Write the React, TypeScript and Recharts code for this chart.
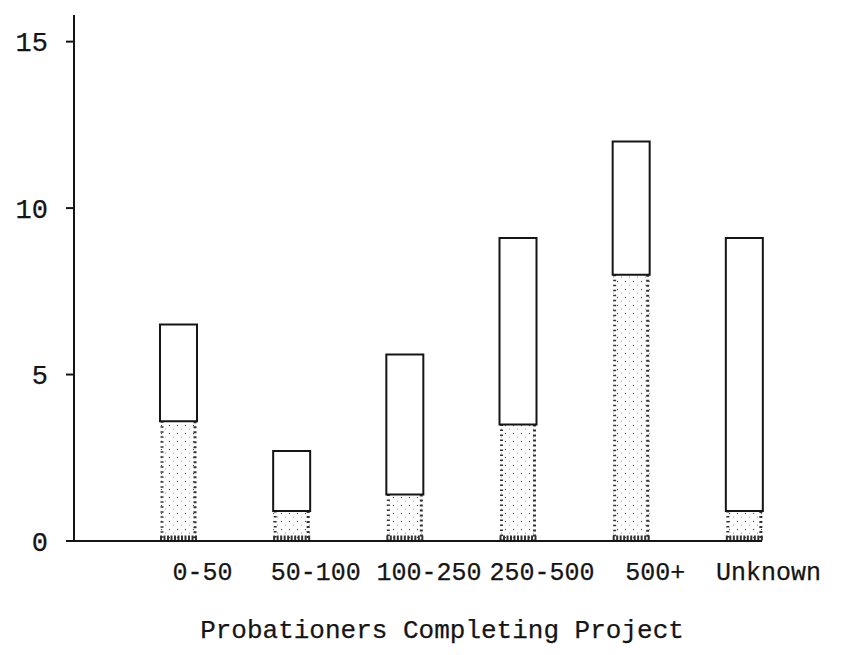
import { BarChart, Bar, XAxis, YAxis } from 'recharts';

const CATEGORIES = ['0-50', '50-100', '100-250', '250-500', '500+', 'Unknown'];
const TOTALS = [6.5, 2.7, 5.6, 9.1, 12, 9.1];
const LOWER = [3.6, 0.9, 1.4, 3.5, 8, 0.9];
const Y_TICKS = [0, 5, 10, 15];
const X_TITLE = 'Probationers Completing Project';

const data = CATEGORIES.map((name, i) => ({
  name,
  lower: LOWER[i],
  upper: +(TOTALS[i] - LOWER[i]).toFixed(2),
}));

const FONT = '"Liberation Mono", "Courier New", monospace';
const INK = '#151515';

// speckled lower part of each bar: sparse fill, denser edges
function StippleBar(props: any) {
  const { x, y, width, height } = props;
  if (!height || height <= 0) return null;
  return (
    <g>
      <rect x={x} y={y} width={width} height={height} fill="url(#stipple)" />
      <line x1={x + 2} x2={x + 2} y1={y} y2={y + height} stroke="#333" strokeWidth={3} strokeDasharray="1.5 3.5" />
      <line x1={x + width - 2} x2={x + width - 2} y1={y} y2={y + height} stroke="#333" strokeWidth={3} strokeDasharray="2 3" />
      <line x1={x} x2={x + width} y1={y + height - 3} y2={y + height - 3} stroke="#333" strokeWidth={5} strokeDasharray="2 1.5" />
    </g>
  );
}

export default function App() {
  return (
    <div style={{ width: 846, height: 647, background: '#fff' }}>
      <BarChart
        width={846}
        height={647}
        data={data}
        margin={{ top: 7, right: 92, bottom: 0, left: 0 }}
        barSize={37}
      >
        <defs>
          <pattern id="stipple" width="8" height="8" patternUnits="userSpaceOnUse">
            <rect width="8" height="8" fill="#fff" />
            <circle cx="1.5" cy="1.5" r="0.7" fill="#555" />
            <circle cx="5.5" cy="5" r="0.5" fill="#777" />
          </pattern>
        </defs>
        <XAxis
          dataKey="name"
          height={114}
          padding={{ left: 48, right: -39 }}
          axisLine={{ stroke: INK, strokeWidth: 2 }}
          tickLine={false}
          tickMargin={15}
          tick={{ fill: INK, stroke: INK, strokeWidth: 0.25, fontSize: 25, fontFamily: FONT, dx: 24 }}
          interval={0}
          label={{
            value: X_TITLE,
            position: 'insideBottom',
            offset: 17,
            dx: 24,
            fill: INK,
            stroke: INK,
            strokeWidth: 0.25,
            fontSize: 26,
            fontFamily: FONT,
          }}
        />
        <YAxis
          width={66}
          domain={[0, 15.8]}
          ticks={Y_TICKS}
          interval={0}
          axisLine={{ stroke: INK, strokeWidth: 2 }}
          tickLine={{ stroke: INK, strokeWidth: 2 }}
          tickSize={8}
          tickMargin={18}
          tick={{ fill: INK, stroke: INK, strokeWidth: 0.25, fontSize: 27, fontFamily: FONT }}
        />
        <Bar dataKey="lower" stackId="a" shape={StippleBar} isAnimationActive={false} />
        <Bar dataKey="upper" stackId="a" fill="#fff" stroke={INK} strokeWidth={2} isAnimationActive={false} />
      </BarChart>
    </div>
  );
}
